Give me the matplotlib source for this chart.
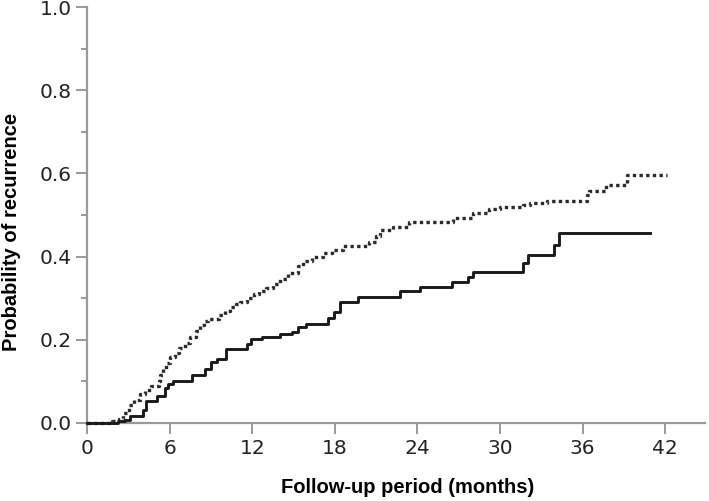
import matplotlib
matplotlib.use("Agg")
import matplotlib.pyplot as plt
from matplotlib.ticker import MultipleLocator

# Upper (dotted) curve: step times (months) and cumulative probability
dotted_t = [0, 1.8, 2.3, 2.6, 3.0, 3.4, 3.8, 4.2, 4.6, 5.2, 5.3, 5.5, 5.7, 6.0, 6.4,
            6.7, 7.1, 7.5, 7.9, 8.2, 8.5, 8.8, 9.6, 10.0, 10.4, 10.8, 11.1, 11.6,
            12.1, 12.5, 13.0, 13.5, 14.0, 14.6, 15.3, 15.7, 16.3, 17.1, 17.8, 18.6,
            20.5, 21.0, 21.3, 22.2, 23.4, 26.6, 28.0, 29.2, 30.0, 31.7, 32.2, 33.4,
            36.3, 36.5, 37.7, 39.2, 42.1]
dotted_p = [0.0, 0.005, 0.01, 0.025, 0.043, 0.055, 0.07, 0.08, 0.089, 0.10, 0.115,
            0.13, 0.145, 0.158, 0.168, 0.18, 0.193, 0.207, 0.222, 0.235, 0.245, 0.25,
            0.26, 0.27, 0.28, 0.285, 0.29, 0.30, 0.31, 0.318, 0.325, 0.335, 0.345,
            0.36, 0.378, 0.39, 0.398, 0.408, 0.415, 0.425, 0.436, 0.45, 0.464, 0.472,
            0.482, 0.492, 0.504, 0.514, 0.52, 0.524, 0.528, 0.534, 0.548, 0.558,
            0.572, 0.596, 0.596]

# Lower (solid) curve
solid_t = [0, 2.25, 2.74, 3.1, 4.07, 4.3, 5.04, 5.64, 5.9, 6.25, 7.6, 8.55, 9.0, 9.4,
           10.1, 11.6, 11.9, 12.7, 14.0, 14.85, 15.3, 15.9, 17.5, 17.9, 18.35, 19.7,
           22.7, 24.2, 26.5, 27.7, 28.0, 31.7, 32.0, 33.9, 34.3, 40.9]
solid_p = [0.0, 0.004, 0.008, 0.018, 0.032, 0.053, 0.065, 0.085, 0.093, 0.10, 0.116,
           0.13, 0.146, 0.154, 0.178, 0.19, 0.203, 0.207, 0.215, 0.219, 0.23, 0.238,
           0.252, 0.268, 0.292, 0.302, 0.317, 0.328, 0.34, 0.352, 0.364, 0.384, 0.404,
           0.428, 0.456, 0.456]

x_ticks = [0, 6, 12, 18, 24, 30, 36, 42]
y_ticks = [0.0, 0.2, 0.4, 0.6, 0.8, 1.0]

label_family = ['Liberation Sans', 'DejaVu Sans']

fig = plt.figure(figsize=(7.09, 5.01), dpi=100)
ax = fig.add_axes([0.1231, 0.1557, 0.8713, 0.8303])

ax.step(dotted_t, dotted_p, where='post', color='#2a2a2a', lw=2.4,
        linestyle=(0, (1.0, 1.0)), zorder=3, clip_on=False)
ax.step(solid_t, solid_p, where='post', color='#1a1a1a', lw=2.1,
        zorder=3, clip_on=False)

ax.set_xlim(0, 44.9)
ax.set_ylim(0, 1.0)
ax.set_xticks(x_ticks)
ax.set_xticklabels([str(v) for v in x_ticks])
ax.set_yticks(y_ticks)
ax.set_yticklabels([f"{v:.1f}" for v in y_ticks])
ax.yaxis.set_minor_locator(MultipleLocator(0.1))

for s in ['top', 'right']:
    ax.spines[s].set_visible(False)
for s in ['left', 'bottom']:
    ax.spines[s].set_color('#9a9a9a')
    ax.spines[s].set_linewidth(1.6)
    ax.spines[s].set_zorder(2)

ax.tick_params(axis='both', which='major', direction='out', length=7.7, width=1.4,
               color='#9a9a9a', labelsize=14.5, labelcolor='#222222', pad=3.5)
ax.tick_params(axis='y', which='minor', direction='out', length=4, width=1.4,
               color='#9a9a9a')

ax.set_xlabel('Follow-up period (months)', fontsize=14.5, fontweight='bold',
              family=label_family)
ax.set_ylabel('Probability of recurrence', fontsize=14.5, fontweight='bold',
              family=label_family)
ax.xaxis.set_label_coords(0.518, -0.156)
ax.yaxis.set_label_coords(-0.122, 0.46)
ax.xaxis.label.set_va('center')
ax.yaxis.label.set_va('center')

fig.savefig('out.png', dpi=100)
